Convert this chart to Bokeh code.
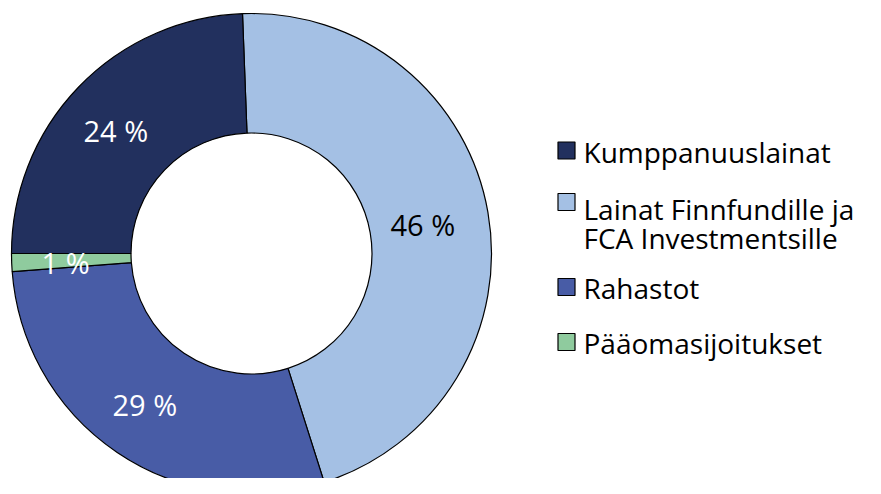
import numpy as np
from bokeh.plotting import figure
from bokeh.models import Range1d, ColumnDataSource
from bokeh.embed import file_html
from bokeh.resources import INLINE
from bokeh.core.properties import value

# ---- data (pie order, clockwise from top) ----
categories = ["Lainat Finnfundille ja\nFCA Investmentsille", "Rahastot",
              "Pääomasijoitukset", "Kumppanuuslainat"]
shares = [45.7, 28.7, 1.2, 24.4]
pct_labels = ["46 %", "29 %", "1 %", "24 %"]
colors = ["#A4C0E4", "#485CA6", "#8FCB9E", "#22305E"]
label_colors = ["black", "white", "white", "white"]

# legend order
legend_order = ["Kumppanuuslainat", "Lainat Finnfundille ja\nFCA Investmentsille",
                "Rahastot", "Pääomasijoitukset"]

# ---- layout (screen pixels) ----
W, H = 865, 478
def px(x):
    return x
def py(y):
    return H - y

cx, cy = px(251), py(253)
r_out, r_in = 240, 120.5
start_deg = 92.15
FONT = "Open Sans"
FS_PCT = "29px"
FS_LEG = "28px"

p = figure(width=W, height=H, x_range=Range1d(0, W), y_range=Range1d(0, H),
           output_backend="svg", toolbar_location=None, min_border=0)
p.axis.visible = False
p.grid.visible = False
p.outline_line_color = None
p.background_fill_color = "white"
p.border_fill_color = "white"

vals = np.array(shares, dtype=float)
frac = vals / vals.sum()
cum = np.concatenate([[0], np.cumsum(frac)])
starts = np.deg2rad(start_deg) - cum[:-1] * 2 * np.pi
ends = np.deg2rad(start_deg) - cum[1:] * 2 * np.pi
mids = (starts + ends) / 2

src = ColumnDataSource(dict(start=starts, end=ends, color=colors, cat=categories))
p.annular_wedge(x=cx, y=cy, inner_radius=r_in, outer_radius=r_out,
                start_angle="start", end_angle="end", direction="clock",
                fill_color="color", line_color="black", line_width=1.2, source=src)

# percentage labels
r_lab = 180
lx = cx + r_lab * np.cos(mids) - 6
ly = cy + r_lab * np.sin(mids) - 2
lsrc = ColumnDataSource(dict(x=lx, y=ly, t=pct_labels, c=label_colors))
p.text(x="x", y="y", text="t", text_color="c", source=lsrc,
       text_font=value(FONT), text_font_size=FS_PCT,
       text_align="center", text_baseline="middle")

# legend (manual)
color_of = dict(zip(categories, colors))
row_centers = [151, 208, 287, 342]     # screen y of first-line centre
box_centers = [150, 201.5, 286.5, 341.5]
line_step = 29
box_x = px(566)
text_x = px(583)
bx, by, bc = [], [], []
tx, ty, tt = [], [], []
for name, rc, bcy in zip(legend_order, row_centers, box_centers):
    bx.append(box_x); by.append(py(bcy)); bc.append(color_of[name])
    for i, line in enumerate(name.split("\n")):
        tx.append(text_x); ty.append(py(rc + i * line_step)); tt.append(line)
p.rect(x=bx, y=by, width=17, height=17, fill_color=bc, line_color="black", line_width=1.2)
p.text(x=tx, y=ty, text=tt, text_color="black", text_font=value(FONT),
       text_font_size=FS_LEG, text_align="left", text_baseline="middle")

open("out.html", "w").write(file_html(p, INLINE))
